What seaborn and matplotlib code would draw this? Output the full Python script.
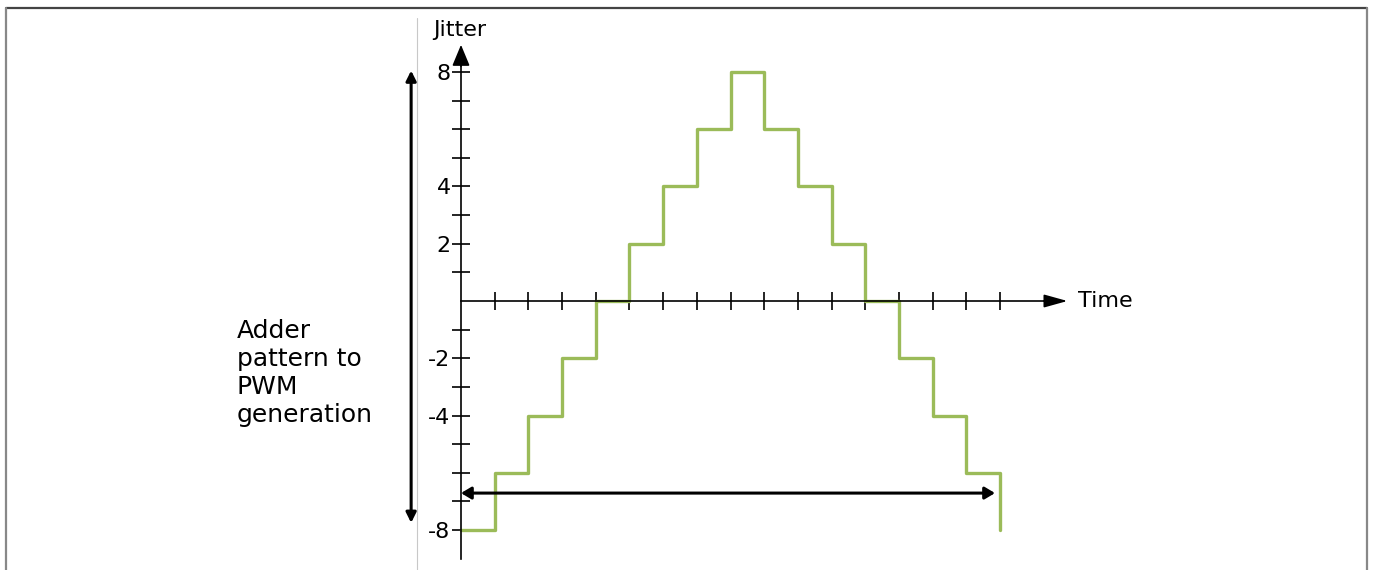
import numpy as np
import pandas as pd
import matplotlib
matplotlib.use("Agg")
import matplotlib.pyplot as plt
from matplotlib.lines import Line2D
import seaborn as sns

# datos del patron de jitter
tiempo = list(range(17))
jitter = [-8, -6, -4, -2, 0, 2, 4, 6, 8, 6, 4, 2, 0, -2, -4, -6, -8]
ticks_y = [v for v in range(-8, 9) if v != 0]
etiquetas_y = {8: "8", 4: "4", 2: "2", -2: "-2", -4: "-4", -8: "-8"}
ticks_x = list(range(1, 17))
texto_lado = "Adder\npattern to\nPWM\ngeneration"

sns.set_theme(style="white")
plt.rcParams['font.family'] = ['DejaVu Sans']
plt.rcParams['text.color'] = 'black'

fig = plt.figure(figsize=(13.73, 5.70), dpi=100)
ax = fig.add_axes([0, 0, 1, 1])
ax.set_xlim(-13.683, 27.07)
ax.set_ylim(-9.397, 10.515)

df = pd.DataFrame({"tiempo": tiempo, "jitter": jitter})
sns.lineplot(data=df, x="tiempo", y="jitter", drawstyle="steps-post",
             color="#9BBB59", linewidth=2.4, ax=ax)
ax.set_xlabel("")
ax.set_ylabel("")

# ejes en el origen
for lado in ["top", "right"]:
    ax.spines[lado].set_visible(False)
ax.spines["left"].set_position(("data", 0))
ax.spines["bottom"].set_position(("data", 0))
ax.spines["left"].set_bounds(-9.0, 8.4)
ax.spines["bottom"].set_bounds(0, 17.5)
for lado in ["left", "bottom"]:
    ax.spines[lado].set_color("black")
    ax.spines[lado].set_linewidth(1.2)

ax.set_yticks(ticks_y)
ax.set_yticklabels([etiquetas_y.get(v, "") for v in ticks_y])
ax.set_xticks(ticks_x)
ax.set_xticklabels([""] * len(ticks_x))
ax.tick_params(axis="both", direction="inout", length=13, width=1.2,
               color="black", labelsize=16, labelcolor="black", pad=1,
               left=True, bottom=True)

# puntas de flecha de los ejes
ax.annotate("", xy=(0, 8.95), xytext=(0, 8.2),
            arrowprops=dict(arrowstyle="-|>,head_length=0.65,head_width=0.27",
                            mutation_scale=20, lw=1.2, color="black",
                            shrinkA=0, shrinkB=0))
ax.annotate("", xy=(18.0, 0), xytext=(17.3, 0),
            arrowprops=dict(arrowstyle="-|>,head_length=0.72,head_width=0.2",
                            mutation_scale=20, lw=1.2, color="black",
                            shrinkA=0, shrinkB=0))
ax.text(18.3, 0, "Time", fontsize=16, va="center", ha="left")
ax.text(-0.03, 9.45, "Jitter", fontsize=16, va="center", ha="center")

# flechas dobles
ax.annotate("", xy=(0, -6.71), xytext=(15.85, -6.71),
            arrowprops=dict(arrowstyle="<|-|>,head_length=0.6,head_width=0.36",
                            mutation_scale=10, lw=2.2, color="black",
                            shrinkA=0, shrinkB=0))
ax.annotate("", xy=(-1.48, 8.05), xytext=(-1.48, -7.75),
            arrowprops=dict(arrowstyle="<|-|>,head_length=0.6,head_width=0.3",
                            mutation_scale=10, lw=2.2, color="black",
                            shrinkA=0, shrinkB=0))

ax.text(-6.65, -2.52, texto_lado, fontsize=18, va="center", ha="left",
        linespacing=1.2)

# marco y separador
fig.add_artist(Line2D([0.0044, 0.9956], [0.986, 0.986],
                      transform=fig.transFigure, color="#444444", lw=1.6))
fig.add_artist(Line2D([0.0044, 0.0044], [0, 0.986],
                      transform=fig.transFigure, color="#888888", lw=1.6))
fig.add_artist(Line2D([0.9956, 0.9956], [0, 0.986],
                      transform=fig.transFigure, color="#888888", lw=1.6))
fig.add_artist(Line2D([0.3037, 0.3037], [0, 0.968],
                      transform=fig.transFigure, color="#c8c8c8", lw=0.8))

fig.savefig("out.png", dpi=100, facecolor="white")
